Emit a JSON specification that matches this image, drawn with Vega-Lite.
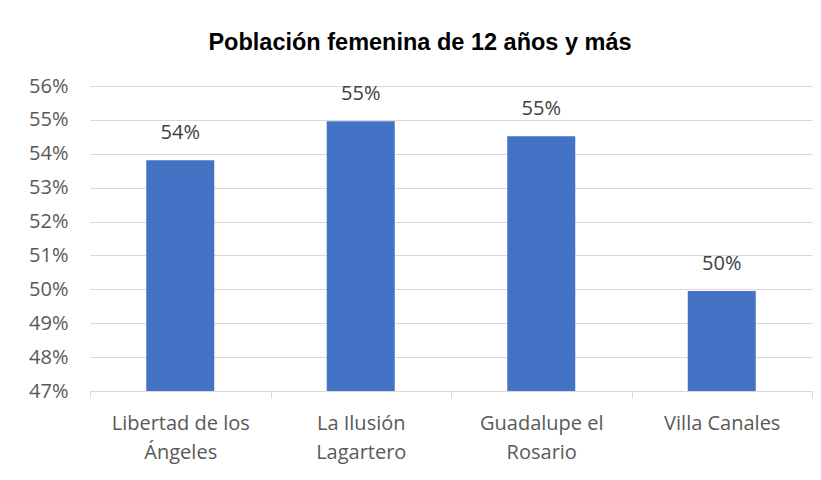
{
  "$schema": "https://vega.github.io/schema/vega-lite/v6.json",
  "width": 722,
  "height": 305,
  "autosize": {"type": "none"},
  "padding": {"left": 90, "top": 86, "right": 9, "bottom": 89},
  "background": "white",
  "title": {
    "text": "Población femenina de 12 años y más",
    "font": "Liberation Sans",
    "fontSize": 23.5,
    "fontWeight": "bold",
    "color": "#000000",
    "anchor": "middle",
    "dx": -31,
    "offset": 22
  },
  "data": {
    "values": [
      {"lugar": "Libertad de los Ángeles", "valor": 0.5381},
      {"lugar": "La Ilusión Lagartero", "valor": 0.5496},
      {"lugar": "Guadalupe el Rosario", "valor": 0.5452},
      {"lugar": "Villa Canales", "valor": 0.4995}
    ]
  },
  "encoding": {
    "x": {
      "field": "lugar",
      "type": "nominal",
      "sort": null,
      "scale": {"paddingInner": 0, "paddingOuter": 0},
      "axis": {
        "title": null,
        "labelAngle": 0,
        "labelExpr": "split(datum.label == 'Libertad de los Ángeles' ? 'Libertad de los|Ángeles' : datum.label == 'La Ilusión Lagartero' ? 'La Ilusión|Lagartero' : datum.label == 'Guadalupe el Rosario' ? 'Guadalupe el|Rosario' : datum.label, '|')",
        "labelFont": "Open Sans",
        "labelFontSize": 20,
        "labelColor": "#595959",
        "labelLineHeight": 29,
        "labelPadding": 15,
        "labelBaseline": "top",
        "tickBand": "extent",
        "ticks": true,
        "tickColor": "#d9d9d9",
        "tickSize": 7,
        "domainColor": "#d9d9d9",
        "domainWidth": 1,
        "grid": false
      }
    },
    "y": {
      "field": "valor",
      "type": "quantitative",
      "scale": {"domain": [0.47, 0.56], "nice": false, "zero": false},
      "axis": {
        "title": null,
        "format": ".0%",
        "values": [0.47, 0.48, 0.49, 0.50, 0.51, 0.52, 0.53, 0.54, 0.55, 0.56],
        "labelFont": "Open Sans",
        "labelFontSize": 20,
        "labelColor": "#595959",
        "labelPadding": 22,
        "ticks": false,
        "domain": false,
        "grid": true,
        "gridColor": "#d9d9d9",
        "gridWidth": 1
      }
    }
  },
  "layer": [
    {
      "mark": {"type": "bar", "color": "#4472C4", "size": 68},
      "encoding": {"y2": {"datum": 0.47}}
    },
    {
      "mark": {"type": "text", "dy": -27, "font": "Open Sans", "fontSize": 20, "color": "#404040", "baseline": "middle"},
      "encoding": {"text": {"field": "valor", "type": "quantitative", "format": ".0%"}}
    }
  ],
  "config": {"view": {"stroke": null}}
}
